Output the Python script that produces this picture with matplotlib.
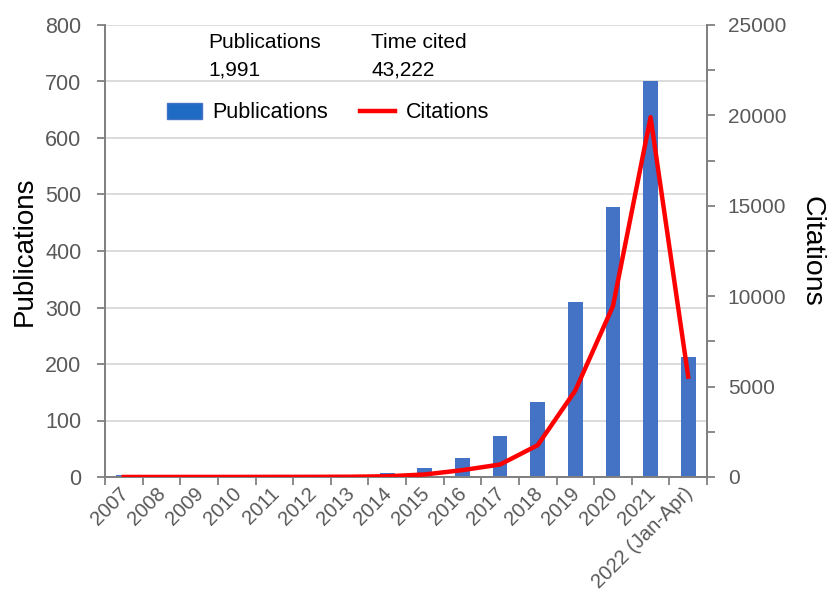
import numpy as np
import matplotlib.pyplot as plt
import matplotlib.transforms as mtransforms
from matplotlib.patches import Patch
from matplotlib.lines import Line2D
from matplotlib.ticker import MultipleLocator

plt.rcParams['font.family'] = ['Liberation Sans', 'DejaVu Sans']

# dữ liệu
years = ["2007", "2008", "2009", "2010", "2011", "2012", "2013", "2014",
         "2015", "2016", "2017", "2018", "2019", "2020", "2021", "2022 (Jan-Apr)"]
publications = [4, 0, 0, 0, 0, 0, 0, 7, 16, 34, 72, 133, 309, 477, 700, 213]
citations = [2, 3, 5, 5, 8, 10, 15, 40, 140, 380, 690, 1760, 4780, 9450, 19900, 5550]
total_pubs = "1,991"
total_cited = "43,222"

grey = "#808080"
tick_grey = "#595959"

fig = plt.figure(figsize=(8.32, 5.98), dpi=100)
ax = fig.add_axes([105 / 832, 1 - 477 / 598, (707 - 105) / 832, (477 - 25) / 598])
ax2 = ax.twinx()

x = np.arange(len(years))
ax.bar(x, publications, width=0.39, color="#4472C4", zorder=2)
ax2.plot(x, citations, color="#FF0000", linewidth=3.2, zorder=3)

ax.set_xlim(-0.5, len(years) - 0.5)
ax.set_ylim(0, 800)
ax2.set_ylim(0, 25000)

# lưới
ax.yaxis.set_major_locator(MultipleLocator(100))
ax.grid(axis="y", color="#d9d9d9", linewidth=1.3, zorder=0)
ax.set_axisbelow(True)

# trục x: vạch ở ranh giới các nhóm
ax.set_xticks(np.arange(-0.5, len(years), 1.0))
ax.set_xticklabels([])
ax.set_xticks(x, minor=True)
ax.set_xticklabels(years, minor=True, rotation=45, ha="right",
                   rotation_mode="anchor", fontsize=14.5, color=tick_grey)
ax.tick_params(axis="x", which="major", length=6, width=1.3, color=grey, direction="out")
ax.tick_params(axis="x", which="minor", length=0, pad=5)
shift = mtransforms.ScaledTranslation(-5 / 100, 0, fig.dpi_scale_trans)
for lab in ax.get_xticklabels(minor=True):
    lab.set_transform(lab.get_transform() + shift)

ax.tick_params(axis="y", length=6, width=1.3, color=grey, labelsize=15.5,
               labelcolor=tick_grey, pad=11)
ax2.yaxis.set_major_locator(MultipleLocator(5000))
ax2.yaxis.set_minor_locator(MultipleLocator(2500))
ax2.tick_params(axis="y", which="major", length=6, width=1.3, color=grey,
                labelsize=15, labelcolor=tick_grey, pad=9)
ax2.tick_params(axis="y", which="minor", length=6, width=1.3, color=grey)

for a in (ax, ax2):
    a.spines["top"].set_visible(False)
    for s in ("left", "right", "bottom"):
        a.spines[s].set_color(grey)
        a.spines[s].set_linewidth(1.3)

ax.set_ylabel("Publications", fontsize=20, color="black", va="center")
ax.yaxis.set_label_coords((25 - 105) / 602, 0.5)
ax2.set_ylabel("Citations", fontsize=20.5, color="black", rotation=-90, va="center")
ax2.yaxis.set_label_coords((811 - 105) / 602, 0.5)

# tổng số
fig.text(208 / 832, 1 - 42 / 598, "Publications", fontsize=15, va="center")
fig.text(208 / 832, 1 - 70 / 598, total_pubs, fontsize=15, va="center")
fig.text(371 / 832, 1 - 42 / 598, "Time cited", fontsize=15, va="center")
fig.text(371 / 832, 1 - 70 / 598, total_cited, fontsize=15, va="center")

handles = [Patch(facecolor="#1F6BC4", edgecolor="#4472C4"),
           Line2D([0], [0], color="#FF0000", linewidth=3.2)]
fig.legend(handles, ["Publications", "Citations"], ncol=2, frameon=False,
           loc="center", bbox_to_anchor=(328 / 832, 1 - 113 / 598),
           fontsize=15.5, handlelength=1.6, handleheight=0.8, columnspacing=1.5,
           handletextpad=0.5)

plt.savefig("out.png", dpi=100)
